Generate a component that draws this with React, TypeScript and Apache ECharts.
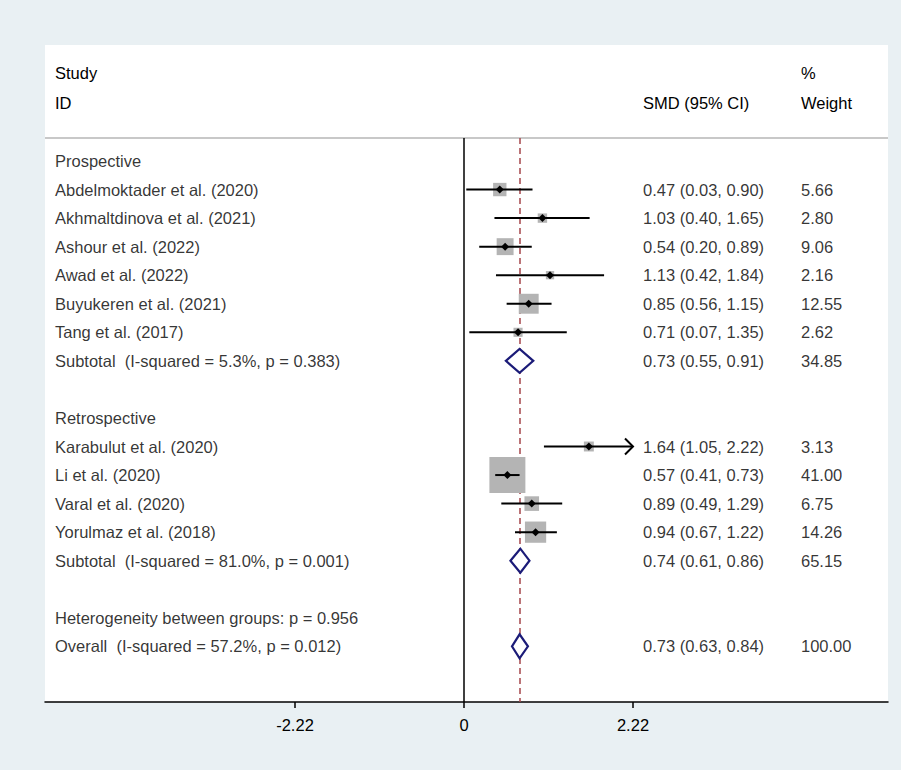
import React, { useEffect, useRef } from "react";
import * as echarts from "echarts";

const labels = [
  "Prospective", "Abdelmoktader et al. (2020)", "Akhmaltdinova et al. (2021)", "Ashour et al. (2022)",
  "Awad et al. (2022)", "Buyukeren et al. (2021)", "Tang et al. (2017)",
  "Subtotal  (I-squared = 5.3%, p = 0.383)", "", "Retrospective",
  "Karabulut et al. (2020)", "Li et al. (2020)", "Varal et al. (2020)", "Yorulmaz et al. (2018)",
  "Subtotal  (I-squared = 81.0%, p = 0.001)", "", "Heterogeneity between groups: p = 0.956",
  "Overall  (I-squared = 57.2%, p = 0.012)",
];
// kind: h=heading, s=study, d=diamond, n=none
const kinds = ["h","s","s","s","s","s","s","d","n","h","s","s","s","s","d","n","h","d"];
const est = [null,0.47,1.03,0.54,1.13,0.85,0.71,0.73,null,null,1.64,0.57,0.89,0.94,0.74,null,null,0.73];
const lo = [null,0.03,0.40,0.20,0.42,0.56,0.07,0.55,null,null,1.05,0.41,0.49,0.67,0.61,null,null,0.63];
const hi = [null,0.90,1.65,0.89,1.84,1.15,1.35,0.91,null,null,2.22,0.73,1.29,1.22,0.86,null,null,0.84];
const ciText = ["","0.47 (0.03, 0.90)","1.03 (0.40, 1.65)","0.54 (0.20, 0.89)","1.13 (0.42, 1.84)","0.85 (0.56, 1.15)","0.71 (0.07, 1.35)","0.73 (0.55, 0.91)","","","1.64 (1.05, 2.22)","0.57 (0.41, 0.73)","0.89 (0.49, 1.29)","0.94 (0.67, 1.22)","0.74 (0.61, 0.86)","","","0.73 (0.63, 0.84)"];
const weights = [null,5.66,2.80,9.06,2.16,12.55,2.62,34.85,null,null,3.13,41.00,6.75,14.26,65.15,null,null,100.00];
const arrowRows = [10];
const overall = 0.73;
const xTicks = [-2.22, 0, 2.22];

const UNIT = 76.13;
const X_MIN = -(464 - 45) / UNIT;
const X_MAX = (888 - 464) / UNIT;
const RS = 28.55;
const Y_MIN = -(161 - 138) / RS;
const Y_MAX = (702 - 161) / RS;
const colX = (px: number) => (px - 464) / UNIT;
const FONT = "Liberation Sans, Arial, sans-serif";
const FS = 16.5;

export default function App() {
  const ref = useRef<HTMLDivElement>(null);
  useEffect(() => {
    const chart = echarts.init(ref.current!, null, { renderer: "svg" });
    const rows = labels.map((_, i) => i);
    const textSeries = (x: number, texts: string[]) => ({
      type: "scatter", symbolSize: 0, silent: true,
      data: texts.map((t, i) => ({ value: [x, i], label: { formatter: t } })),
      label: { show: true, position: "right", distance: 0, color: "#000", fontSize: FS, fontFamily: FONT },
    });
    const hdr = (x: number, y: number, t: string) => ({ type: "text", x, y,
      style: { text: t, fontSize: FS, fontFamily: FONT, fill: "#000", verticalAlign: "middle" } });
    chart.setOption({
      animation: false,
      backgroundColor: "#e9f0f3",
      grid: { left: 45, right: 13, top: 138, bottom: 68 },
      xAxis: {
        type: "value", min: X_MIN, max: X_MAX,
        axisLine: { onZero: false, lineStyle: { color: "#000", width: 1.5 } },
        axisTick: { customValues: xTicks, length: 6, lineStyle: { color: "#000", width: 1.5 } },
        axisLabel: { customValues: xTicks, color: "#000", fontSize: FS, fontFamily: FONT, margin: 14,
          formatter: (v: number) => (Math.abs(v) < 1e-9 ? "0" : v.toFixed(2)) },
        splitLine: { show: false },
      },
      yAxis: { type: "value", inverse: true, min: Y_MIN, max: Y_MAX, show: false },
      graphic: [
        { type: "rect", z: -10, shape: { x: 45, y: 45, width: 843, height: 657 }, style: { fill: "#fff" } },
        { type: "line", shape: { x1: 45, y1: 138, x2: 888, y2: 138 }, style: { stroke: "#c8c8c8", lineWidth: 2 } },
        hdr(55, 73, "Study"), hdr(55, 103, "ID"), hdr(643, 103, "SMD (95% CI)"),
        hdr(801, 73, "%"), hdr(801, 103, "Weight"),
      ],
      series: [
        {
          type: "line", silent: true, symbol: "none", data: [],
          markLine: {
            silent: true, symbol: "none", label: { show: false },
            data: [
              { xAxis: 0, lineStyle: { color: "#000", type: "solid", width: 1.5 } },
              { xAxis: overall, lineStyle: { color: "#a5464b", type: [6, 4], width: 1.5 } },
            ],
          },
        },
        {
          type: "custom", silent: true, z: 5,
          data: rows.filter((i) => kinds[i] === "s" || kinds[i] === "d").map((i) => [i, est[i], lo[i], hi[i], weights[i]]),
          renderItem: (params: any, api: any) => {
            const i = api.value(0), e = api.value(1), l = api.value(2), h = api.value(3), w = api.value(4);
            const [cx, cy] = api.coord([e, i]);
            const [lx] = api.coord([l, i]);
            const [hx] = api.coord([h, i]);
            if (kinds[i] === "d") {
              return { type: "polygon", shape: { points: [[lx, cy], [cx, cy - 12], [hx, cy], [cx, cy + 12]] },
                style: { fill: "#fff", stroke: "#1b1b78", lineWidth: 2.2 } };
            }
            const s = 36 * Math.sqrt(w / 41);
            const children: any[] = [
              { type: "rect", shape: { x: cx - s / 2, y: cy - s / 2, width: s, height: s }, style: { fill: "#b4b4b4" } },
              { type: "line", shape: { x1: lx, y1: cy, x2: hx, y2: cy }, style: { stroke: "#000", lineWidth: 2 } },
              { type: "polygon", shape: { points: [[cx - 4, cy], [cx, cy - 4], [cx + 4, cy], [cx, cy + 4]] }, style: { fill: "#000" } },
            ];
            if (arrowRows.includes(i)) {
              children.push({ type: "polyline", shape: { points: [[hx - 8, cy - 8], [hx, cy], [hx - 8, cy + 8]] },
                style: { stroke: "#000", lineWidth: 2, fill: null } });
            }
            return { type: "group", children };
          },
        },
        textSeries(colX(55), labels),
        textSeries(colX(643), ciText),
        textSeries(colX(801), weights.map((w) => (w == null ? "" : w.toFixed(2)))),
      ],
    });
    return () => chart.dispose();
  }, []);
  return <div ref={ref} style={{ position: "fixed", left: 0, top: 0, width: 901, height: 770 }} />;
}
